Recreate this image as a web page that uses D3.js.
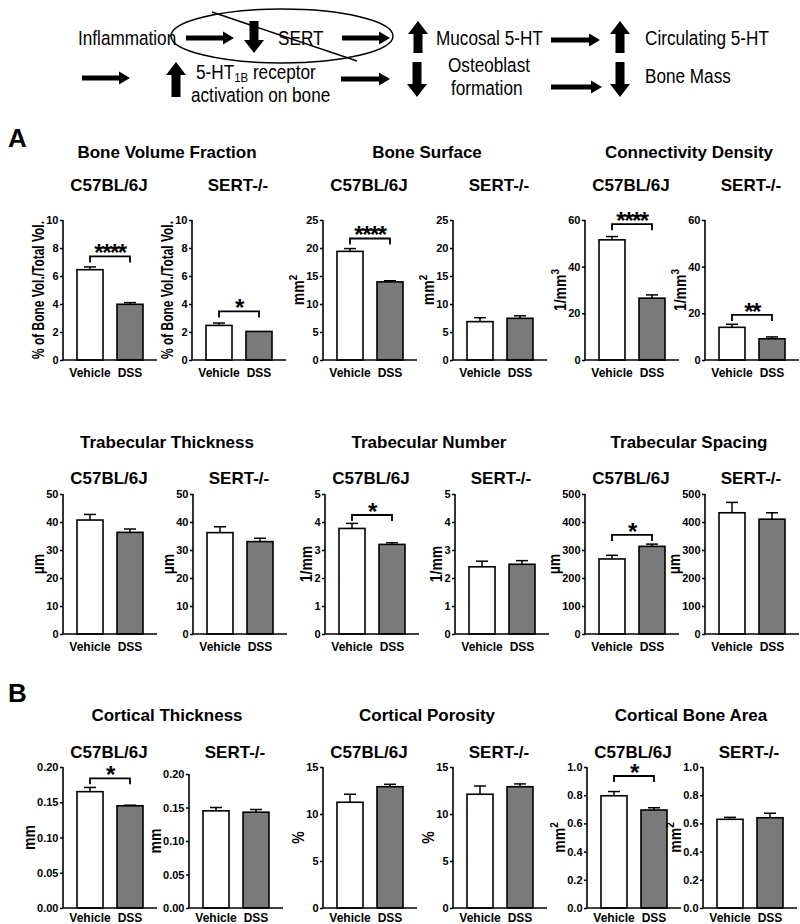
<!DOCTYPE html>
<html><head><meta charset="utf-8">
<script src="https://cdn.jsdelivr.net/npm/d3@7/dist/d3.min.js"></script>
<style>
body{margin:0;background:#fff}
svg{display:block}
text{font-family:"Liberation Sans",Arial,Helvetica,sans-serif}
</style>
</head><body>
<svg id="c" width="800" height="924"></svg>
<script>
// ---------- DATA ----------
const groups = ["Vehicle", "DSS"];
const strains = ["C57BL/6J", "SERT-/-"];
const measures = ["Bone Volume Fraction", "Bone Surface", "Connectivity Density",
  "Trabecular Thickness", "Trabecular Number", "Trabecular Spacing",
  "Cortical Thickness", "Cortical Porosity", "Cortical Bone Area"];
const yLabels = [["% of Bone Vol./Total Vol.", ""], ["mm", "2"], ["1/mm", "3"],
  ["µm", ""], ["1/mm", ""], ["µm", ""], ["mm", ""], ["%", ""], ["mm", "2"]];
const yMax = [10, 25, 60, 50, 5, 500, 0.20, 15, 1.0];
const tickStep = [2, 5, 20, 10, 1, 100, 0.05, 5, 0.2];
const tickDecimals = [0, 0, 0, 0, 0, 0, 2, 0, 1];
const meansC57 = [[6.45, 3.98], [19.4, 13.95], [51.5, 26.5], [40.7, 36.3], [3.77, 3.2],
  [268, 313], [0.165, 0.145], [11.25, 12.9], [0.796, 0.695]];
const semC57 = [[0.2, 0.12], [0.5, 0.2], [1.4, 1.4], [2.0, 1.2], [0.18, 0.06],
  [13, 8], [0.006, 0.0008], [0.85, 0.26], [0.03, 0.016]];
const meansSERT = [[2.47, 2.04], [6.85, 7.45], [14.0, 9.1], [36.2, 33.0], [2.4, 2.49],
  [433, 410], [0.145, 0.143], [12.1, 12.9], [0.629, 0.64]];
const semSERT = [[0.17, 0.0], [0.7, 0.45], [1.3, 0.8], [2.1, 1.2], [0.2, 0.13],
  [37, 23], [0.005, 0.004], [0.88, 0.3], [0.014, 0.032]];
const sigC57 = ["****", "****", "****", "", "*", "*", "*", "", "*"];
const sigSERT = ["*", "", "**", "", "", "", "", "", ""];
const bracketC57 = [7.4, 21.7, 58.2, null, 4.25, 354, 0.184, null, 0.936];
const bracketSERT = [3.47, null, 19.3, null, null, null, null, null, null];

// ---------- LAYOUT ----------
const rowLayout = [
  {top: 220, bottom: 360, title: 158, sub: 191, xlab: 377},
  {top: 494, bottom: 634, title: 448, sub: 484, xlab: 651},
  {top: 767, bottom: 908, title: 721, sub: 758, xlab: 922}
];
const panelX = [[63, 192], [323, 453], [585, 705], [63, 193], [325, 455], [585, 705],
  [63, 189], [323, 453], [587, 703]];
const topAdjust = {"6-1": 7};
const axisW = 94;
const dssFill = "#7a7a7a";

const svg = d3.select("#c");

// ---------- DIAGRAM ----------
const dg = svg.append("g");
function hArrow(x1, x2, y) {
  const t = 2.6, hh = 6.5, hl = 11;
  dg.append("path").attr("d",
    `M${x1},${y - t}L${x2 - hl},${y - t}L${x2 - hl},${y - hh}L${x2},${y}L${x2 - hl},${y + hh}L${x2 - hl},${y + t}L${x1},${y + t}Z`)
    .attr("fill", "#000");
}
function vArrow(x, y1, y2, up) {
  const sw = 4.5, hw = 10, hl = 13;
  let d;
  if (up) d = `M${x - sw},${y2}L${x - sw},${y1 + hl}L${x - hw},${y1 + hl}L${x},${y1}L${x + hw},${y1 + hl}L${x + sw},${y1 + hl}L${x + sw},${y2}Z`;
  else d = `M${x - sw},${y1}L${x - sw},${y2 - hl}L${x - hw},${y2 - hl}L${x},${y2}L${x + hw},${y2 - hl}L${x + sw},${y2 - hl}L${x + sw},${y1}Z`;
  dg.append("path").attr("d", d).attr("fill", "#000");
}
function dText(x, y, s) {
  return dg.append("text").attr("transform", `translate(${x},${y}) scale(0.88,1)`)
    .attr("font-size", 19.5).text(s);
}
dg.append("ellipse").attr("cx", 282).attr("cy", 36).attr("rx", 111).attr("ry", 27)
  .attr("fill", "none").attr("stroke", "#000").attr("stroke-width", 1.5);
dg.append("line").attr("x1", 212).attr("y1", 12).attr("x2", 357).attr("y2", 61)
  .attr("stroke", "#000").attr("stroke-width", 1.5);
dText(78, 45, "Inflammation");
hArrow(186, 234, 38);
vArrow(254, 21, 53, false);
dText(278, 45, "SERT");
hArrow(342, 390, 38);
vArrow(418, 21, 53, true);
dText(436, 45, "Mucosal 5-HT");
hArrow(551, 600, 40);
vArrow(620, 21, 53, true);
dText(645, 45, "Circulating 5-HT");
hArrow(82, 130, 78);
vArrow(176, 62, 97, true);
const t5 = dText(196, 79, "5-HT");
t5.append("tspan").attr("font-size", 13).attr("dy", 3).text("1B");
t5.append("tspan").attr("dy", -3).text(" receptor");
dText(191, 102, "activation on bone");
hArrow(341, 390, 79);
vArrow(417, 62, 97, false);
dText(448, 72, "Osteoblast");
dText(451, 95, "formation");
hArrow(551, 602, 87);
vArrow(620, 62, 97, false);
dText(645, 83, "Bone Mass");

// ---------- PANEL LETTERS ----------
svg.append("text").attr("x", 8).attr("y", 147).attr("font-size", 26).attr("font-weight", "bold").text("A");
svg.append("text").attr("x", 8).attr("y", 702).attr("font-size", 26).attr("font-weight", "bold").text("B");

// ---------- CHARTS ----------
measures.forEach((m, i) => {
  const row = rowLayout[Math.floor(i / 3)];
  svg.append("text").attr("x", panelX[i][0] + 104).attr("y", row.title)
    .attr("text-anchor", "middle").attr("font-size", 17).attr("font-weight", "bold").text(m);
  strains.forEach((s, si) => {
    const x0 = panelX[i][si];
    const top = row.top + (topAdjust[i + "-" + si] || 0);
    const means = si === 0 ? meansC57[i] : meansSERT[i];
    const sems = si === 0 ? semC57[i] : semSERT[i];
    const sig = si === 0 ? sigC57[i] : sigSERT[i];
    const br = si === 0 ? bracketC57[i] : bracketSERT[i];
    const y = d3.scaleLinear().domain([0, yMax[i]]).range([row.bottom, top]);
    const x = d3.scaleBand().domain(groups).range([x0, x0 + axisW]).paddingInner(0.35).paddingOuter(0.35);
    const g = svg.append("g");

    g.append("text").attr("x", x0 + 46).attr("y", row.sub).attr("text-anchor", "middle")
      .attr("font-size", 17).attr("font-weight", "bold").text(s);

    const data = groups.map((k, j) => ({k, m: means[j], e: sems[j]}));
    data.forEach(d => {
      if (d.e > 0) {
        const cx = x(d.k) + x.bandwidth() / 2;
        g.append("line").attr("x1", cx).attr("x2", cx).attr("y1", y(d.m)).attr("y2", y(d.m + d.e))
          .attr("stroke", "#000").attr("stroke-width", 1.5);
        g.append("line").attr("x1", cx - 6).attr("x2", cx + 6).attr("y1", y(d.m + d.e)).attr("y2", y(d.m + d.e))
          .attr("stroke", "#000").attr("stroke-width", 1.5);
      }
    });
    g.selectAll("rect.bar").data(data).join("rect").attr("class", "bar")
      .attr("x", d => x(d.k)).attr("width", x.bandwidth())
      .attr("y", d => y(d.m)).attr("height", d => y(0) - y(d.m))
      .attr("fill", (d, j) => j === 0 ? "#fff" : dssFill)
      .attr("stroke", "#000").attr("stroke-width", 1.6);

    // y axis
    const ticks = d3.range(0, yMax[i] + tickStep[i] / 2, tickStep[i]);
    const ax = g.append("g").attr("transform", `translate(${x0},0)`)
      .call(d3.axisLeft(y).tickValues(ticks).tickFormat(d3.format("." + tickDecimals[i] + "f"))
        .tickSize(3).tickPadding(1.5));
    ax.attr("font-family", '"Liberation Sans",Arial,sans-serif').attr("font-size", 11);
    ax.select(".domain").attr("stroke-width", 1.6).attr("d", `M0,${top}V${row.bottom}`);
    ax.selectAll(".tick line").attr("stroke-width", 1.5);
    ax.selectAll(".tick text").attr("font-size", 11).attr("font-weight", "bold").attr("fill", "#000");
    g.append("line").attr("x1", x0).attr("x2", x0 + axisW).attr("y1", row.bottom).attr("y2", row.bottom)
      .attr("stroke", "#000").attr("stroke-width", 1.6);
    groups.forEach(k => {
      g.append("text").attr("x", x(k) + x.bandwidth() / 2).attr("y", row.xlab).attr("text-anchor", "middle")
        .attr("font-size", 12).attr("font-weight", "bold").text(k);
    });

    // y label
    const bb = ax.node().getBBox();
    const lx = x0 + bb.x - 2;
    const cy = (top + row.bottom) / 2;
    const long = yLabels[i][0].length > 10;
    const lab = g.append("text").attr("transform", `translate(${lx},${cy}) rotate(-90) scale(1,1.15)`)
      .attr("text-anchor", "middle").attr("font-size", long ? 14 : 14).attr("font-weight", "bold")
      .text(yLabels[i][0]);
    if (long) lab.attr("textLength", 138).attr("lengthAdjust", "spacingAndGlyphs");
    if (yLabels[i][1]) lab.append("tspan").attr("font-size", 10).attr("dy", -6).text(yLabels[i][1]);

    // significance
    if (sig) {
      const xa = x(groups[0]) + x.bandwidth() / 2, xb = x(groups[1]) + x.bandwidth() / 2;
      const by = y(br);
      g.append("path").attr("d", `M${xa},${by + 6}V${by}H${xb}V${by + 6}`)
        .attr("fill", "none").attr("stroke", "#000").attr("stroke-width", 1.8);
      g.append("text").attr("x", (xa + xb) / 2).attr("y", by + 5).attr("text-anchor", "middle")
        .attr("letter-spacing", -1.5)
        .attr("font-size", 24).attr("font-weight", "bold").text(sig);
    }
  });
});
</script>
</body></html>
